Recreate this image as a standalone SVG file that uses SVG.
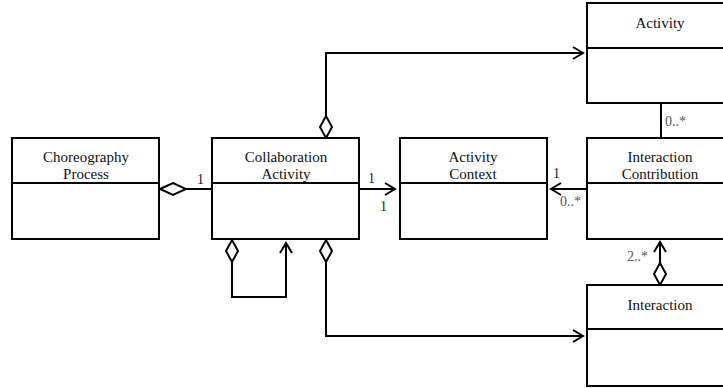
<svg xmlns="http://www.w3.org/2000/svg" width="723" height="388" viewBox="0 0 723 388">
  <style>
    .box { fill: #fff; stroke: #000; stroke-width: 2; }
    .div { stroke: #000; stroke-width: 2; }
    text { font-family: 'Liberation Serif', 'Times New Roman', serif; }
    .name { font-size: 15px; fill: #111; text-anchor: middle; }
    .mult { font-size: 14px; fill: #222; }
    .g { fill: #555; }
    .line { fill: none; stroke: #000; stroke-width: 2; }
    .dia { fill: #fff; stroke: #000; stroke-width: 2; }
  </style>
  <defs>
    <marker id="open" viewBox="0 0 14 14" refX="12" refY="7" markerWidth="14" markerHeight="14" markerUnits="userSpaceOnUse" orient="auto">
      <path d="M2,1 L12,7 L2,13" fill="none" stroke="#000" stroke-width="2"/>
    </marker>
  </defs>

  <rect width="723" height="388" fill="#fff"/>

  <g id="connectors">
    <!-- Choreography Process aggregates Collaboration Activity -->
    <line class="line" x1="186" y1="189" x2="212" y2="189"/>
    <path class="dia" d="M160,189 L173,183 L186,189 L173,195 Z"/>
    <text class="mult" x="197" y="184">1</text>

    <!-- Collaboration Activity to Activity Context -->
    <line class="line" x1="359" y1="189" x2="395" y2="189" marker-end="url(#open)"/>
    <text class="mult" x="368" y="183">1</text>
    <text class="mult" x="380" y="211">1</text>

    <!-- Interaction Contribution to Activity Context -->
    <line class="line" x1="587" y1="189" x2="551" y2="189" marker-end="url(#open)"/>
    <text class="mult" x="553" y="178">1</text>
    <text class="mult g" x="560" y="206">0..*</text>

    <!-- Collaboration Activity to Activity -->
    <path class="line" d="M326,116 V53 H583" marker-end="url(#open)"/>
    <path class="dia" d="M326,116 L332,127 L326,138 L320,127 Z"/>

    <!-- Activity to Interaction Contribution -->
    <line class="line" x1="661" y1="103" x2="661" y2="138"/>
    <text class="mult g" x="665" y="126">0..*</text>

    <!-- Collaboration Activity self-association -->
    <path class="line" d="M232,262 V297 H286 V243" marker-end="url(#open)"/>
    <path class="dia" d="M232,240 L238,251 L232,262 L226,251 Z"/>

    <!-- Collaboration Activity to Interaction -->
    <path class="line" d="M326,262 V336 H583" marker-end="url(#open)"/>
    <path class="dia" d="M326,240 L332,251 L326,262 L320,251 Z"/>

    <!-- Interaction aggregates Interaction Contribution -->
    <line class="line" x1="660" y1="263" x2="660" y2="242" marker-end="url(#open)"/>
    <path class="dia" d="M660,263 L666,274 L660,285 L654,274 Z"/>
    <text class="mult g" x="627" y="261">2..*</text>
  </g>

  <g id="choreography-process">
    <rect class="box" x="12" y="138" width="147" height="101"/>
    <line class="div" x1="12" y1="183" x2="159" y2="183"/>
    <text class="name" x="86" y="162">Choreography</text>
    <text class="name" x="86" y="179">Process</text>
  </g>

  <g id="collaboration-activity">
    <rect class="box" x="212" y="138" width="147" height="101"/>
    <line class="div" x1="212" y1="183" x2="359" y2="183"/>
    <text class="name" x="286" y="162">Collaboration</text>
    <text class="name" x="286" y="179">Activity</text>
  </g>

  <g id="activity-context">
    <rect class="box" x="400" y="138" width="147" height="101"/>
    <line class="div" x1="400" y1="183" x2="547" y2="183"/>
    <text class="name" x="473" y="162">Activity</text>
    <text class="name" x="473" y="179">Context</text>
  </g>

  <g id="interaction-contribution">
    <rect class="box" x="587" y="138" width="147" height="101"/>
    <line class="div" x1="587" y1="183" x2="734" y2="183"/>
    <text class="name" x="660" y="162">Interaction</text>
    <text class="name" x="660" y="179">Contribution</text>
  </g>

  <g id="activity">
    <rect class="box" x="587" y="3" width="147" height="100"/>
    <line class="div" x1="587" y1="48" x2="734" y2="48"/>
    <text class="name" x="660" y="28">Activity</text>
  </g>

  <g id="interaction">
    <rect class="box" x="587" y="285" width="147" height="101"/>
    <line class="div" x1="587" y1="329" x2="734" y2="329"/>
    <text class="name" x="660" y="310">Interaction</text>
  </g>
</svg>
